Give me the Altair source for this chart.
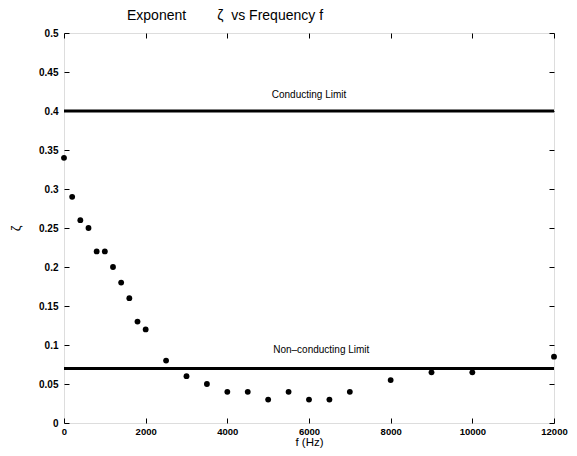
import altair as alt
import pandas as pd

# ---- data ----
freq = [0, 200, 400, 600, 800, 1000, 1200, 1400, 1600, 1800, 2000, 2500, 3000,
        3500, 4000, 4500, 5000, 5500, 6000, 6500, 7000, 8000, 9000, 10000, 12000]
zeta = [0.34, 0.29, 0.26, 0.25, 0.22, 0.22, 0.20, 0.18, 0.16, 0.13, 0.12, 0.08, 0.06,
        0.05, 0.04, 0.04, 0.03, 0.04, 0.03, 0.03, 0.04, 0.055, 0.065, 0.065, 0.085]
limit_values = [0.40, 0.07]
limit_names = ["Conducting Limit", "Non\u2013conducting Limit"]
label_f = [6000, 6300]
label_z = [0.42, 0.093]
x_ticks = [0, 2000, 4000, 6000, 8000, 10000, 12000]
y_ticks = [0, 0.05, 0.1, 0.15, 0.2, 0.25, 0.3, 0.35, 0.4, 0.45, 0.5]

pts_df = pd.DataFrame({"f": freq, "z": zeta})
lim_df = pd.DataFrame({"v": limit_values})
lab_df = pd.DataFrame({"f": label_f, "z": label_z, "t": limit_names})

W, H = 490, 390
FONT = "Liberation Sans"
xs = alt.Scale(domain=[0, 12000], nice=False, zero=False)
ys = alt.Scale(domain=[0, 0.5], nice=False, zero=False)

pts = alt.Chart(pts_df).mark_circle(size=34, color="black", opacity=1).encode(
    x=alt.X("f:Q", scale=xs, axis=alt.Axis(
        values=x_ticks, format="d", title="f (Hz)", ticks=False, domain=False,
        grid=False, labelPadding=3, labelFont=FONT, labelFontSize=9.5,
        labelFontWeight="bold", labelColor="black", titleFont=FONT,
        titleFontSize=11.5, titleFontWeight="normal", titleColor="black",
        titlePadding=1, labelFlush=False)),
    y=alt.Y("z:Q", scale=ys, axis=alt.Axis(
        values=y_ticks, format="~g", title="\u03b6", ticks=False, domain=False,
        grid=False, labelPadding=6, labelFont=FONT, labelFontSize=10,
        labelFontWeight="bold", labelColor="black", titleFont=FONT,
        titleFontSize=13, titleFontWeight="normal", titleColor="black",
        titlePadding=16, labelFlush=False)),
)

tick_common = dict(labels=False, domain=False, grid=False, title=None,
                   tickSize=5, tickColor="black", tickWidth=1)

ticks_a = alt.Chart(pts_df).mark_circle(opacity=0).encode(
    x=alt.X("f:Q", scale=xs, axis=alt.Axis(orient="top", offset=-H,
                                           values=x_ticks, **tick_common)),
    y=alt.Y("z:Q", scale=ys, axis=alt.Axis(orient="right", offset=-W,
                                           values=y_ticks, **tick_common)),
)
ticks_b = alt.Chart(pts_df).mark_circle(opacity=0).encode(
    x=alt.X("f:Q", scale=xs, axis=alt.Axis(orient="bottom", offset=-H,
                                           values=x_ticks, **tick_common)),
    y=alt.Y("z:Q", scale=ys, axis=alt.Axis(orient="left", offset=-W,
                                           values=y_ticks, **tick_common)),
)

rules = alt.Chart(lim_df).mark_rule(color="black", strokeWidth=3).encode(
    y=alt.Y("v:Q", scale=ys, axis=None)
)

labels = alt.Chart(lab_df).mark_text(font=FONT, fontSize=10, color="black").encode(
    x=alt.X("f:Q", scale=xs, axis=None),
    y=alt.Y("z:Q", scale=ys, axis=None),
    text="t:N",
)

chart = alt.layer(rules, pts, ticks_a, ticks_b, labels).resolve_axis(
    x="independent", y="independent"
).properties(
    width=W, height=H,
    title=alt.TitleParams(
        "Exponent\u00a0\u00a0\u00a0\u00a0\u00a0\u00a0\u00a0\u00a0\u03b6\u00a0\u00a0vs Frequency f",
        anchor="start", frame="group", dx=63, offset=5, font=FONT,
        fontSize=14, fontWeight="normal", color="black"),
    autosize=alt.AutoSizeParams(type="none"),
    padding={"left": 56, "top": 25, "right": 15, "bottom": 25},
).configure_view(stroke="black", strokeWidth=1.5).configure(background="white")

chart.save("out.html", embed_options={"renderer": "svg", "actions": False})
